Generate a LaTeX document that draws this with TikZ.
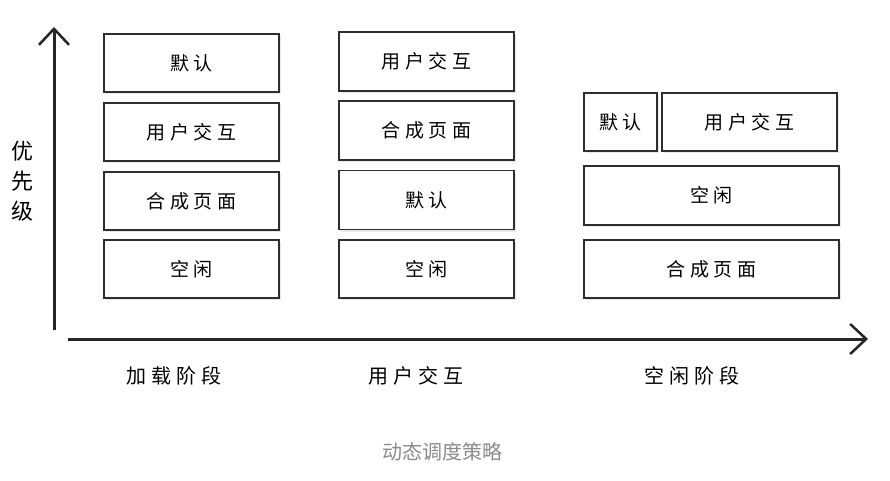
\documentclass[tikz,border=0pt]{standalone}
\usepackage{fontspec}
\setmainfont{Noto Sans CJK SC}
\newfontfamily\cjkspaced[LetterSpace=25]{Noto Sans CJK SC}
\usetikzlibrary{arrows.meta, shadows, positioning}
\definecolor{inkgray}{HTML}{2E2E2E}
\definecolor{capgray}{HTML}{8A8A8A}
\tikzset{
    box/.style={rectangle, draw=inkgray, line width=1.3pt, fill=white, minimum width=175pt, minimum height=58pt, align=center,
        font=\cjkspaced\fontsize{19}{22}\selectfont, text=black,
        drop shadow={shadow xshift=1.5pt, shadow yshift=-2pt, opacity=0.18}},
    axis/.style={line width=3pt, black!85, -{Straight Barb[length=16pt, width=30pt, line width=2.5pt]}},
    phase/.style={font=\cjkspaced\fontsize{20}{22}\selectfont, text=black},
}

\begin{document}
\begin{tikzpicture}[x=1pt, y=-1pt]
\useasboundingbox (0,0) rectangle (890,481);

% Axes
\coordinate (yStart) at (54,330);
\coordinate (yEnd) at (54,27);
\coordinate (xStart) at (68,339);
\coordinate (xEnd) at (868,339);
\draw[axis] (yStart) -- (yEnd);
\draw[axis] (xStart) -- (xEnd);
\node[font=\fontsize{22}{30}\selectfont, align=center] (prio) at (22,181) {优\\先\\级};

% ── Loading ──
\node[box] (loadDefault) at (191.5,63) {默认};
\node[box] (loadInteract) at (191.5,132) {用户交互};
\node[box] (loadCompose) at (191.5,201) {合成页面};
\node[box] (loadIdle) at (191.5,269) {空闲};

% ── Interaction ──
\node[box, minimum height=59pt] (userInteract) at (426.5,61.5) {用户交互};
\node[box, minimum height=59pt] (userCompose) at (426.5,130.5) {合成页面};
\node[box, minimum height=59pt] (userDefault) at (426.5,200) {默认};
\node[box] (userIdle) at (426.5,269) {空闲};

% ── Idle ──
\node[box, minimum width=73pt] (idleDefault) at (620.5,122) {默认};
\node[box] (idleInteract) at (749.5,122) {用户交互};
\node[box, minimum width=255pt, minimum height=59pt] (idleIdle) at (711.5,195.5) {空闲};
\node[box, minimum width=255pt] (idleCompose) at (711.5,269) {合成页面};

% Phase labels
\node[phase] (phaseLoad) at (174,376) {加载阶段};
\node[phase] (phaseUser) at (416,376) {用户交互};
\node[phase] (phaseIdle) at (692,376) {空闲阶段};

% Caption
\node[font=\fontsize{20}{24}\selectfont, text=capgray] (caption) at (442,452) {动态调度策略};

\end{tikzpicture}
\end{document}
